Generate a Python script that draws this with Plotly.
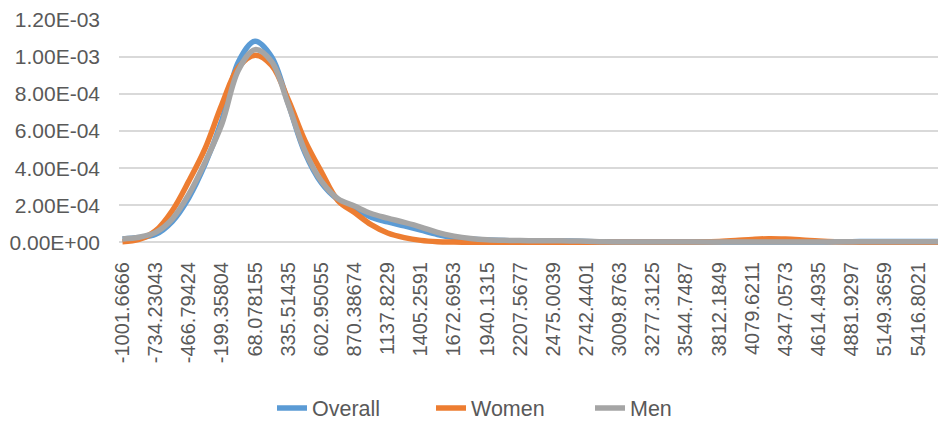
import plotly.graph_objects as go

# Category values (x) of the density estimate
x_values = [
    -1001.6666, -867.9485, -734.23043, -600.5124, -466.79424, -333.0762,
    -199.35804, -65.6400, 68.078155, 201.7963, 335.51435, 469.2324,
    602.95055, 736.6686, 870.38674, 1004.1049, 1137.8229, 1271.5410,
    1405.2591, 1538.9772, 1672.6953, 1806.4134, 1940.1315, 2073.8496,
    2207.5677, 2341.2858, 2475.0039, 2608.7220, 2742.4401, 2876.1582,
    3009.8763, 3143.5944, 3277.3125, 3411.0306, 3544.7487, 3678.4668,
    3812.1849, 3945.9030, 4079.6211, 4213.3392, 4347.0573, 4480.7754,
    4614.4935, 4748.2116, 4881.9297, 5015.6478, 5149.3659, 5283.0840,
    5416.8021, 5550.5202, 5684.2383,
]

overall = [
    1.8e-05, 2.5e-05, 4.3e-05, 1.12e-04, 2.40e-04, 4.25e-04,
    6.6e-04, 9.75e-04, 1.085e-03, 1.00e-03, 7.5e-04, 4.85e-04,
    3.2e-04, 2.3e-04, 1.85e-04, 1.35e-04, 1.10e-04, 8.8e-05,
    6.5e-05, 4.2e-05, 2.6e-05, 1.7e-05, 1.2e-05, 9e-06,
    8e-06, 8e-06, 7e-06, 6e-06, 4e-06, 2e-06,
    1e-06, 1e-06, 1e-06, 1e-06, 1e-06, 1e-06,
    1e-06, 1e-06, 1e-06, 1e-06, 1e-06, 1e-06,
    1e-06, 2e-06, 3e-06, 4e-06, 4e-06, 4e-06,
    4e-06, 4e-06, 4e-06,
]

women = [
    3e-06, 1.5e-05, 6.2e-05, 1.70e-04, 3.30e-04, 5.10e-04,
    7.45e-04, 9.45e-04, 1.01e-03, 9.55e-04, 7.7e-04, 5.5e-04,
    3.8e-04, 2.25e-04, 1.6e-04, 9.5e-05, 5.0e-05, 2.5e-05,
    1.0e-05, 3e-06, 1e-06, 0.0, 0.0, 0.0,
    0.0, 0.0, 0.0, 0.0, 0.0, 0.0,
    0.0, 0.0, 0.0, 0.0, 0.0, 1e-06,
    4e-06, 9e-06, 1.5e-05, 1.9e-05, 1.7e-05, 1.2e-05,
    6e-06, 2e-06, 1e-06, 0.0, 0.0, 0.0,
    0.0, 0.0, 0.0,
]

men = [
    1.8e-05, 2.7e-05, 5.3e-05, 1.25e-04, 2.58e-04, 4.35e-04,
    6.4e-04, 9.3e-04, 1.04e-03, 9.75e-04, 7.45e-04, 4.95e-04,
    3.3e-04, 2.35e-04, 1.95e-04, 1.55e-04, 1.30e-04, 1.07e-04,
    8.2e-05, 5.3e-05, 3.3e-05, 2.0e-05, 1.3e-05, 1.0e-05,
    9e-06, 8e-06, 8e-06, 7e-06, 5e-06, 2e-06,
    1e-06, 1e-06, 1e-06, 1e-06, 1e-06, 1e-06,
    1e-06, 1e-06, 1e-06, 1e-06, 1e-06, 1e-06,
    1e-06, 2e-06, 3e-06, 3e-06, 3e-06, 3e-06,
    3e-06, 3e-06, 3e-06,
]

x_tick_labels = [
    "-1001.6666", "-734.23043", "-466.79424", "-199.35804", "68.078155",
    "335.51435", "602.95055", "870.38674", "1137.8229", "1405.2591",
    "1672.6953", "1940.1315", "2207.5677", "2475.0039", "2742.4401",
    "3009.8763", "3277.3125", "3544.7487", "3812.1849", "4079.6211",
    "4347.0573", "4614.4935", "4881.9297", "5149.3659", "5416.8021",
]
x_tick_values = x_values[0:49:2]

y_tick_values = [0, 0.0002, 0.0004, 0.0006, 0.0008, 0.0010, 0.0012]
y_tick_labels = ["0.00E+00", "2.00E-04", "4.00E-04", "6.00E-04",
                 "8.00E-04", "1.00E-03", "1.20E-03"]

series = [
    ("Overall", overall, "#5B9BD5"),
    ("Women", women, "#ED7D31"),
    ("Men", men, "#A5A5A5"),
]

FONT = "Liberation Sans, Arial, sans-serif"
TXT = "#595959"

fig = go.Figure()
for name, vals, color in series:
    fig.add_trace(go.Scatter(
        x=x_values, y=vals, name=name, mode="lines",
        line=dict(color=color, width=5.5, shape="spline", smoothing=1.0),
    ))

# page body has an 8px default margin, so the figure is 8px smaller
fig.update_layout(
    width=938, height=416,
    margin=dict(l=111, r=0, t=9, b=179),
    paper_bgcolor="white", plot_bgcolor="white",
    font=dict(family=FONT, color=TXT, size=20),
    showlegend=True,
    legend=dict(
        orientation="h", x=0.4734, xanchor="center",
        yref="container", y=0.0385, yanchor="middle",
        font=dict(family=FONT, color=TXT, size=21.5),
        entrywidth=114, entrywidthmode="pixels",
        tracegroupgap=0,
    ),
)

fig.update_xaxes(
    range=[-1029.9, 5642.6],
    tickmode="array", tickvals=x_tick_values, ticktext=x_tick_labels,
    tickangle=-90, tickfont=dict(family=FONT, color=TXT, size=20),
    showgrid=False, zeroline=False, showline=False, ticks="",
    ticklabelstandoff=12,
)
fig.update_yaxes(
    range=[-0.000015, 0.0012],
    tickmode="array", tickvals=y_tick_values, ticktext=y_tick_labels,
    tickfont=dict(family=FONT, color=TXT, size=21),
    showgrid=True, gridcolor="#D9D9D9", gridwidth=1.5,
    zeroline=False, showline=False, ticks="",
    ticklabelstandoff=18, ticklabeloverflow="allow",
)

fig.write_html("out.html")
